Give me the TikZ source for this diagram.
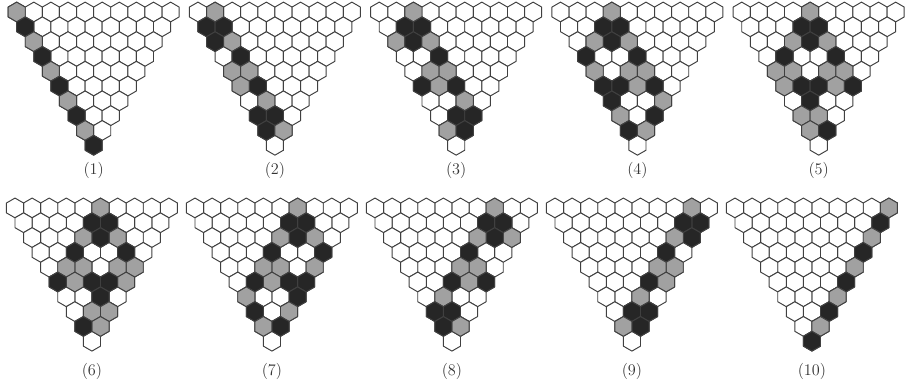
\documentclass[tikz,border=0pt]{standalone}
\colorlet{dk}{black!85}
\colorlet{gy}{black!37}
\colorlet{hexline}{black!75}
% colored cells row/position/colour, panels 1-5 (6-10 are mirror images)
\def\panA{0/0/gy,1/0/dk,2/0/gy,3/0/dk,4/0/gy,5/0/dk,6/0/gy,7/0/dk,8/0/gy,9/0/dk}
\def\panB{0/1/gy,1/0/dk,1/1/dk,2/0/dk,2/1/gy,3/1/dk,4/0/gy,4/1/gy,5/0/gy,5/1/dk,6/1/gy,7/0/dk,7/1/dk,8/0/dk,8/1/gy}
\def\panC{0/2/gy,1/1/dk,1/2/dk,2/0/gy,2/1/dk,2/2/gy,3/2/dk,4/1/gy,4/2/gy,5/0/dk,5/1/gy,5/2/dk,6/2/gy,7/1/dk,7/2/dk,8/0/gy,8/1/dk}
\def\panD{0/3/gy,1/2/dk,1/3/dk,2/1/gy,2/2/dk,2/3/gy,3/0/dk,3/3/dk,4/0/gy,4/2/gy,4/3/gy,5/0/dk,5/1/dk,5/2/gy,5/3/dk,6/0/dk,6/3/gy,7/0/gy,7/2/dk,8/0/dk,8/1/gy}
\def\panE{0/4/gy,1/3/dk,1/4/dk,2/2/gy,2/3/dk,2/4/gy,3/1/dk,3/4/dk,4/0/gy,4/1/gy,4/3/gy,4/4/gy,5/0/gy,5/1/dk,5/2/dk,5/3/gy,5/4/dk,6/1/dk,7/0/gy,7/1/gy,8/0/gy,8/1/dk}
\newcommand\hexpanel[3]{%
  \begin{scope}[shift={#1},xscale=#2]
    \foreach \r in {0,...,9}{\pgfmathtruncatemacro\n{9-\r}
      \foreach \p in {0,...,\n}{\pic[cell,fill=white] at (\r/2+\p,-0.866*\r) {hexa};}}
    \foreach \r/\p/\c in #3{\pic[cell,fill=\c] at (\r/2+\p,-0.866*\r) {hexa};}
  \end{scope}}
\begin{document}
\begin{tikzpicture}[x=0.5cm,y=0.5cm,line join=round,font=\fontsize{13.5}{16}\selectfont]
\useasboundingbox (0,0) rectangle (53.04,-22.81);
\tikzset{hexa/.pic={\path[pic actions] (30:0.5774)--(90:0.5774)--(150:0.5774)--(210:0.5774)--(270:0.5774)--(330:0.5774)--cycle;},
  cell/.style={draw=hexline,line width=0.8pt}}
\hexpanel{(0.977,-0.702)}{1}\panA
\hexpanel{(11.577,-0.702)}{1}\panB
\hexpanel{(22.177,-0.702)}{1}\panC
\hexpanel{(32.777,-0.702)}{1}\panD
\hexpanel{(43.377,-0.702)}{1}\panE
\hexpanel{(9.877,-12.16)}{-1}\panE
\hexpanel{(20.403,-12.16)}{-1}\panD
\hexpanel{(30.929,-12.16)}{-1}\panC
\hexpanel{(41.455,-12.16)}{-1}\panB
\hexpanel{(51.981,-12.16)}{-1}\panA
\foreach \k in {1,...,5}
  \node[text=black!80] (lab\k) at ({0.977+10.6*(\k-1)+4.5},-9.94) {(\k)};
\foreach \k in {6,...,10}
  \node[text=black!80] (lab\k) at ({0.877+10.526*(\k-6)+4.5},-21.70) {(\k)};
\end{tikzpicture}
\end{document}
